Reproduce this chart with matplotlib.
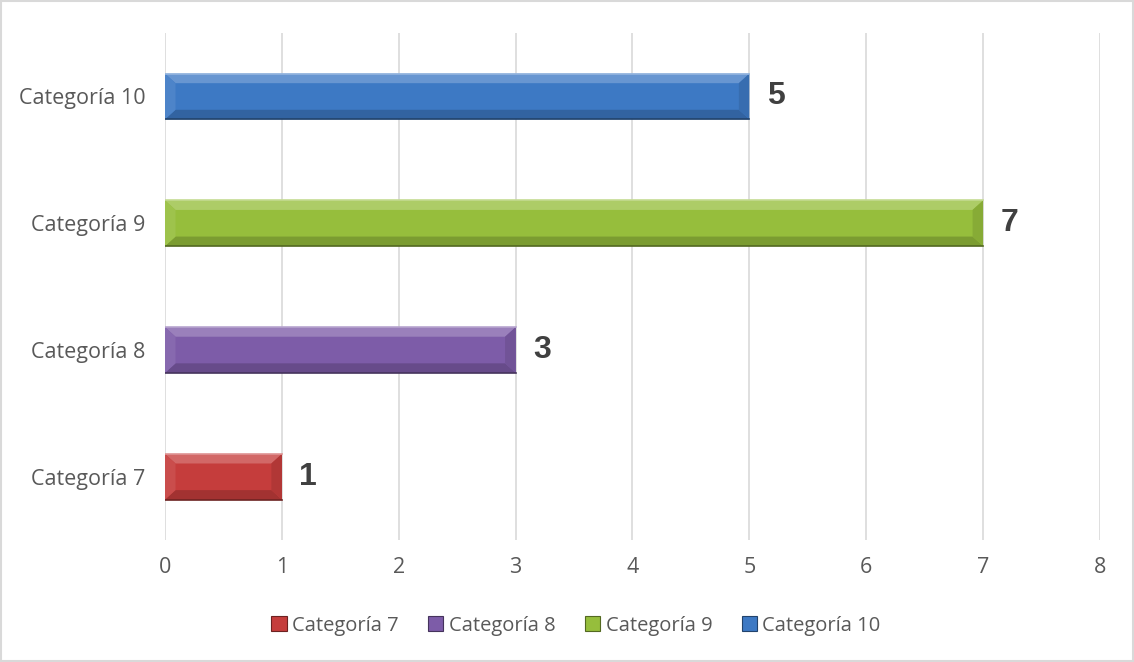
import matplotlib
matplotlib.use("Agg")
import matplotlib.pyplot as plt
from matplotlib.patches import Polygon, Rectangle
import matplotlib.colors as mcolors

categories = ["Categoría 7", "Categoría 8", "Categoría 9", "Categoría 10"]
values = [1, 3, 7, 5]
colors = ["#C53D3C", "#7D5CA8", "#96BE3C", "#3D79C4"]
x_ticks = [0, 1, 2, 3, 4, 5, 6, 7, 8]

plt.rcParams["font.family"] = ["Open Sans", "DejaVu Sans"]

fig = plt.figure(figsize=(11.34, 6.62), dpi=100)
ax = fig.add_axes([0.1455, 0.184, 0.8245, 0.766])

ys = list(range(len(categories)))
h = 0.36
bars = ax.barh(ys, values, height=h, color=colors, edgecolor="none", zorder=3)


def shade(c, f):
    r, g, b = mcolors.to_rgb(c)
    if f > 0:
        return (r + (1 - r) * f, g + (1 - g) * f, b + (1 - b) * f)
    return (r * (1 + f), g * (1 + f), b * (1 + f))


# soft bevel built from each bar's own geometry
for b, c in zip(bars, colors):
    x0, y0, w, hh = b.get_x(), b.get_y(), b.get_width(), b.get_height()
    x1, y1 = x0 + w, y0 + hh
    dx, dy = 0.09, 0.075
    ax.add_patch(Polygon([(x0, y1), (x1, y1), (x1 - dx, y1 - dy), (x0 + dx, y1 - dy)],
                         closed=True, color=shade(c, 0.22), lw=0, zorder=4))
    ax.add_patch(Polygon([(x0, y0), (x1, y0), (x1 - dx, y0 + dy), (x0 + dx, y0 + dy)],
                         closed=True, color=shade(c, -0.18), lw=0, zorder=4))
    ax.add_patch(Polygon([(x0, y0), (x0, y1), (x0 + dx, y1 - dy), (x0 + dx, y0 + dy)],
                         closed=True, color=shade(c, 0.08), lw=0, zorder=4))
    ax.add_patch(Polygon([(x1, y0), (x1, y1), (x1 - dx, y1 - dy), (x1 - dx, y0 + dy)],
                         closed=True, color=shade(c, -0.10), lw=0, zorder=4))
    ax.plot([x0, x1], [y1, y1], color=shade(c, 0.45), lw=1.2, zorder=5)
    ax.plot([x0, x1], [y0, y0], color=shade(c, -0.45), lw=1.2, zorder=5)
    ax.text(x1 + 0.15, b.get_y() + hh / 2, f"{b.get_width():g}", va="center", ha="left",
            fontsize=23, fontweight="bold", color="#404040",
            family=["Liberation Sans", "DejaVu Sans"], zorder=6)

ax.set_xlim(0, 8)
ax.set_ylim(-0.5, 3.5)
ax.set_xticks(x_ticks)
ax.set_yticks(ys)
ax.set_yticklabels(categories)
ax.tick_params(length=0, labelsize=15.5, colors="#595959", pad=14)
ax.tick_params(axis="x", pad=12)
ax.grid(axis="x", color="#D9D9D9", lw=1.2, zorder=0)
for s in ax.spines.values():
    s.set_visible(False)

handles = [Rectangle((0, 0), 1, 1, fc=c, ec=shade(c, -0.45), lw=0.8) for c in colors]
fig.legend(handles, categories, loc="center", bbox_to_anchor=(0.508, 0.055), ncol=4,
           frameon=False, fontsize=14.5, handlelength=0.75, handleheight=0.75,
           handletextpad=0.25, columnspacing=1.5, labelcolor="#595959")

fig.add_artist(Rectangle((0.001, 0.002), 0.998, 0.996, transform=fig.transFigure,
                         fill=False, ec="#D9D9D9", lw=1.5))

fig.savefig("out.png", dpi=100)
